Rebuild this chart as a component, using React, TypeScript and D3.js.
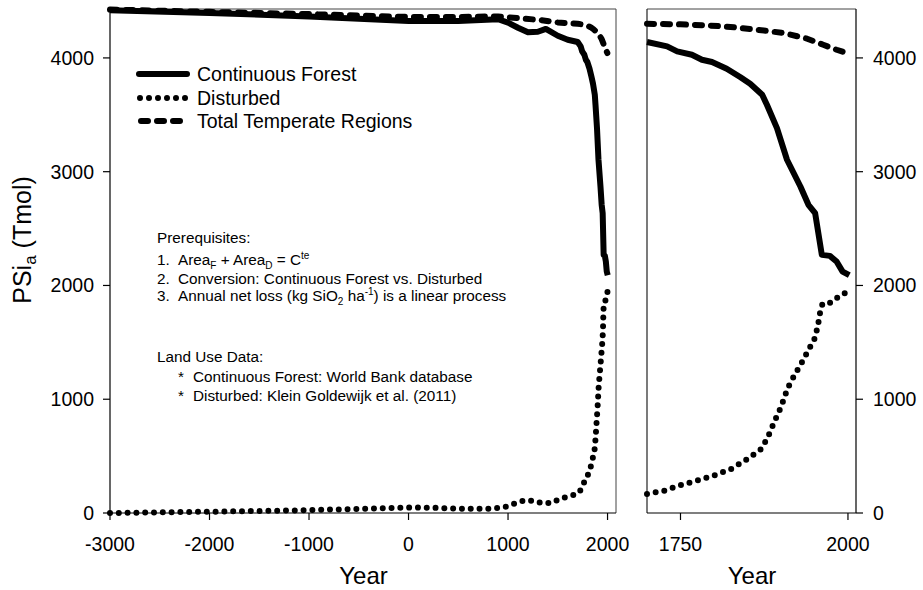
import React from 'react';
import * as d3 from 'd3';

// ---------- data ----------
const leftXTicks = [-3000, -2000, -1000, 0, 1000, 2000];
const rightXTicks = [1750, 2000];
const yTicks = [0, 1000, 2000, 3000, 4000];

// coarse part (left panel only)
const forestCoarseYears = [-3000, -2000, -1000, 0, 500, 900, 1000, 1100, 1200, 1300, 1380, 1500, 1600];
const forestCoarse = [4420, 4395, 4365, 4325, 4325, 4340, 4310, 4265, 4225, 4230, 4255, 4195, 4160];

const totalCoarseYears = [-3000, -2000, -1000, 0, 500, 900, 1100, 1300, 1500, 1600];
const totalCoarse = [4425, 4405, 4385, 4360, 4360, 4365, 4350, 4335, 4312, 4305];

const disturbedCoarseYears = [
  -3000, -2911, -2823, -2734, -2645, -2557, -2468, -2379, -2291, -2202, -2113, -2025,
  -1936, -1847, -1758, -1670, -1581, -1492, -1404, -1315, -1226, -1138, -1049, -960,
  -872, -783, -694, -606, -517, -428, -340, -251, -162, -74, 15, 104, 192, 281, 370,
  458, 547, 636, 725, 813, 902, 991, 1079, 1168, 1257, 1345, 1434, 1523, 1611,
];
const disturbedCoarse = [
  0, 1, 2, 3, 4, 5, 6, 7, 8, 9, 10, 11,
  12, 13, 15, 16, 17, 18, 19, 20, 22, 23, 24, 26,
  28, 30, 32, 34, 36, 38, 40, 42, 44, 46, 48, 48, 47, 45, 42,
  40, 38, 37, 37, 38, 44, 58, 88, 112, 106, 85, 88, 126, 147,
];

// fine part (1700-2000), shared by both panels
const forestFineYears = [1700, 1730, 1745, 1767, 1782, 1797, 1819, 1839, 1854, 1872, 1879, 1894, 1909, 1929, 1941, 1951, 1961, 1973, 1983, 1992, 2002];
const forestFine = [4140, 4101, 4057, 4028, 3984, 3964, 3905, 3832, 3773, 3676, 3588, 3383, 3105, 2870, 2709, 2636, 2269, 2260, 2210, 2122, 2090];

const totalFineYears = [1700, 1750, 1790, 1830, 1864, 1904, 1939, 1963, 1983, 1998];
const totalFine = [4300, 4295, 4286, 4270, 4248, 4219, 4169, 4116, 4072, 4043];

const disturbedFineYears = [1700, 1725, 1750, 1775, 1800, 1825, 1850, 1870, 1880, 1890, 1900, 1910, 1920, 1930, 1940, 1950, 1955, 1958, 1962, 1975, 1988, 2000];
const disturbedFine = [168, 195, 245, 285, 330, 385, 475, 560, 660, 800, 930, 1097, 1210, 1310, 1420, 1530, 1640, 1750, 1840, 1850, 1911, 1945];

const legendLabels = ['Continuous Forest', 'Disturbed', 'Total Temperate Regions'];

// ---------- helpers ----------
const zip = (xs: number[], ys: number[]): [number, number][] => xs.map((x, i) => [x, ys[i]]);

const FONT = "'Liberation Sans', Arial, Helvetica, sans-serif";
const DOT = '0 8.8';
const DASH = '7 9';
const SW = 6;

export default function App() {
  const y = d3.scaleLinear().domain([0, 4430]).range([513, 9]);
  const xL = d3.scaleLinear().domain([-3000, 2085]).range([110, 616]);
  const xR = d3.scaleLinear().domain([1700, 2012]).range([647, 856]);

  const lineL = d3.line<[number, number]>().x((d) => xL(d[0])).y((d) => y(d[1]));
  const lineR = d3.line<[number, number]>().x((d) => xR(d[0])).y((d) => y(d[1]));

  const forestAll = zip(forestCoarseYears, forestCoarse).concat(zip(forestFineYears, forestFine));
  const totalAll = zip(totalCoarseYears, totalCoarse).concat(zip(totalFineYears, totalFine));
  const distAll = zip(disturbedCoarseYears, disturbedCoarse).concat(zip(disturbedFineYears, disturbedFine));

  const forestR = zip(forestFineYears, forestFine);
  const totalR = zip(totalFineYears, totalFine);
  const distR = zip(disturbedFineYears, disturbedFine);

  const y0 = y(0);
  const yTop = y.range()[1];

  return (
    <svg
      width={923}
      height={590}
      style={{ position: 'absolute', left: 0, top: 0, background: '#fff' }}
      fontFamily={FONT}
    >
      <rect x={0} y={0} width={923} height={590} fill="#fff" />

      {/* ---------- left panel ---------- */}
      <g>
        <line x1={xL(-3000)} x2={xL.range()[1]} y1={yTop} y2={yTop} stroke="#444" strokeWidth={1} />
        <line x1={xL.range()[1]} x2={xL.range()[1]} y1={yTop} y2={y0} stroke="#444" strokeWidth={1} />
        <line x1={110} x2={110} y1={yTop} y2={y0} stroke="#000" strokeWidth={1.2} />
        <line x1={110} x2={xL.range()[1]} y1={y0} y2={y0} stroke="#000" strokeWidth={1.2} />
        {yTicks.map((t) => (
          <g key={'yl' + t}>
            <line x1={103} x2={110} y1={y(t)} y2={y(t)} stroke="#000" strokeWidth={1.2} />
            <text x={94} y={y(t)} dy="0.35em" textAnchor="end" fontSize={19.5}>
              {t}
            </text>
          </g>
        ))}
        {leftXTicks.map((t) => (
          <g key={'xl' + t}>
            <line x1={xL(t)} x2={xL(t)} y1={y0} y2={y0 + 7} stroke="#000" strokeWidth={1.2} />
            <text x={xL(t)} y={551} textAnchor="middle" fontSize={19.5}>
              {t}
            </text>
          </g>
        ))}
        <text x={xL(0) - 45} y={584} textAnchor="middle" fontSize={24}>
          Year
        </text>

        <path d={lineL(forestAll) || ''} fill="none" stroke="#000" strokeWidth={SW} strokeLinejoin="round" />
        <path
          d={lineL(totalAll) || ''}
          fill="none"
          stroke="#000"
          strokeWidth={SW}
          strokeDasharray={DASH}
          strokeLinecap="round"
          strokeLinejoin="round"
        />
        <path
          d={lineL(distAll) || ''}
          fill="none"
          stroke="#000"
          strokeWidth={SW}
          strokeDasharray={DOT}
          strokeLinecap="round"
        />

        {/* legend */}
        <line x1={139} x2={187} y1={74} y2={74} stroke="#000" strokeWidth={SW} strokeLinecap="round" />
        <line x1={140} x2={186} y1={98} y2={98} stroke="#000" strokeWidth={SW} strokeDasharray="0 9" strokeLinecap="round" />
        <line x1={141} x2={181} y1={121} y2={121} stroke="#000" strokeWidth={SW} strokeDasharray={DASH} strokeLinecap="round" />
        {legendLabels.map((l, i) => (
          <text key={l} x={197} y={[74, 98, 121][i]} dy="0.35em" fontSize={19.5}>
            {l}
          </text>
        ))}

        {/* annotation */}
        <g fontSize={15.3}>
          <text x={157} y={243}>Prerequisites:</text>
          <text x={157} y={265}>1.</text>
          <text x={178} y={265}>
            Area<tspan dy={4} fontSize={10}>F</tspan>
            <tspan dy={-4}> + Area</tspan>
            <tspan dy={4} fontSize={10}>D</tspan>
            <tspan dy={-4}> = C</tspan>
            <tspan dy={-6} fontSize={10}>te</tspan>
          </text>
          <text x={157} y={284}>2.</text>
          <text x={178} y={284}>Conversion: Continuous Forest vs. Disturbed</text>
          <text x={157} y={301}>3.</text>
          <text x={178} y={301}>
            Annual net loss (kg SiO<tspan dy={4} fontSize={10}>2</tspan>
            <tspan dy={-4}> ha</tspan>
            <tspan dy={-6} fontSize={10}>-1</tspan>
            <tspan dy={6}>) is a linear process</tspan>
          </text>
          <text x={157} y={362}>Land Use Data:</text>
          <text x={178} y={382}>*</text>
          <text x={193} y={382}>Continuous Forest: World Bank database</text>
          <text x={178} y={401}>*</text>
          <text x={193} y={401}>Disturbed: Klein Goldewijk et al. (2011)</text>
        </g>

        <text transform="translate(31,240) rotate(-90)" textAnchor="middle" fontSize={25}>
          PSi<tspan dy={5} fontSize={17}>a</tspan>
          <tspan dy={-5}> (Tmol)</tspan>
        </text>
      </g>

      {/* ---------- right panel ---------- */}
      <g>
        <line x1={xR.range()[0]} x2={xR.range()[1]} y1={yTop} y2={yTop} stroke="#444" strokeWidth={1} />
        <line x1={xR.range()[0]} x2={xR.range()[0]} y1={yTop} y2={y0} stroke="#222" strokeWidth={1.2} />
        <line x1={xR.range()[1]} x2={xR.range()[1]} y1={yTop} y2={y0} stroke="#000" strokeWidth={1.2} />
        <line x1={xR.range()[0]} x2={xR.range()[1]} y1={y0} y2={y0} stroke="#000" strokeWidth={1.2} />
        {yTicks.map((t) => (
          <g key={'yr' + t}>
            <line x1={xR.range()[1]} x2={xR.range()[1] + 7} y1={y(t)} y2={y(t)} stroke="#000" strokeWidth={1.2} />
            <text x={873} y={y(t)} dy="0.35em" textAnchor="start" fontSize={19.5}>
              {t}
            </text>
          </g>
        ))}
        {rightXTicks.map((t) => (
          <g key={'xr' + t}>
            <line x1={xR(t)} x2={xR(t)} y1={y0} y2={y0 + 7} stroke="#000" strokeWidth={1.2} />
            <text x={xR(t)} y={551} textAnchor="middle" fontSize={19.5}>
              {t}
            </text>
          </g>
        ))}
        <text x={752} y={584} textAnchor="middle" fontSize={24}>
          Year
        </text>

        <path d={lineR(forestR) || ''} fill="none" stroke="#000" strokeWidth={SW} strokeLinejoin="round" />
        <path
          d={lineR(totalR) || ''}
          fill="none"
          stroke="#000"
          strokeWidth={SW}
          strokeDasharray={DASH}
          strokeLinecap="round"
          strokeLinejoin="round"
        />
        <path
          d={lineR(distR) || ''}
          fill="none"
          stroke="#000"
          strokeWidth={SW}
          strokeDasharray={DOT}
          strokeLinecap="round"
        />
      </g>
    </svg>
  );
}
